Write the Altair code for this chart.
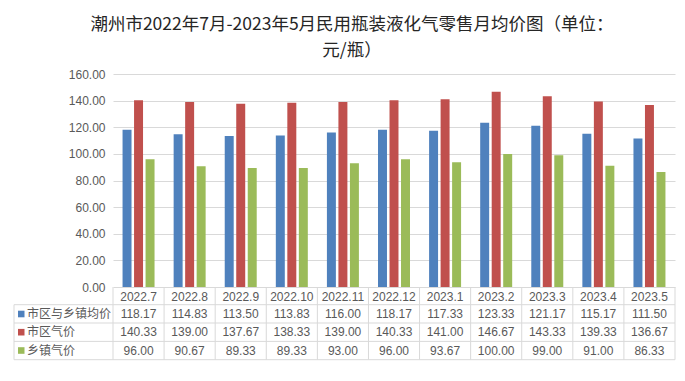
import altair as alt
import pandas as pd

months = ["2022.7", "2022.8", "2022.9", "2022.10", "2022.11", "2022.12",
          "2023.1", "2023.2", "2023.3", "2023.4", "2023.5"]
series = ["市区与乡镇均价", "市区气价", "乡镇气价"]
avg_price = [118.17, 114.83, 113.50, 113.83, 116.00, 118.17, 117.33, 123.33, 121.17, 115.17, 111.50]
city_price = [140.33, 139.00, 137.67, 138.33, 139.00, 140.33, 141.00, 146.67, 143.33, 139.33, 136.67]
town_price = [96.00, 90.67, 89.33, 89.33, 93.00, 96.00, 93.67, 100.00, 99.00, 91.00, 86.33]
colors = ["#4F81BD", "#C0504D", "#9BBB59"]
title_lines = ["潮州市2022年7月-2023年5月民用瓶装液化气零售月均价图（单位：", "元/瓶）"]

rows = []
for s, vals in zip(series, [avg_price, city_price, town_price]):
    for m, v in zip(months, vals):
        rows.append({"month": m, "series": s, "value": v, "label": f"{v:.2f}"})
df = pd.DataFrame(rows)

W, H = 562, 213
NUM_FONT = "Liberation Sans Narrow, Liberation Sans, sans-serif"
CJK_FONT = "Noto Sans CJK SC"
GRID = "#D9D9D9"
TXT = "#595959"

xscale = alt.Scale(domain=months, paddingInner=0, paddingOuter=0)
xenc = alt.X("month:N", sort=months, scale=xscale, axis=None)

bars = alt.Chart(df).mark_bar().encode(
    x=xenc,
    xOffset=alt.XOffset("series:N", sort=series,
                        scale=alt.Scale(domain=series, paddingInner=0.22, paddingOuter=0.83)),
    y=alt.Y("value:Q", scale=alt.Scale(domain=[0, 160]),
            axis=alt.Axis(values=list(range(0, 161, 20)), format=".2f", title=None,
                          domain=False, ticks=False, labelPadding=8, gridColor=GRID,
                          labelColor=TXT, labelFont=NUM_FONT, labelFontSize=12)),
    color=alt.Color("series:N", sort=series, scale=alt.Scale(domain=series, range=colors), legend=None),
)

layers = [bars]

# table header labels
hdr = pd.DataFrame({"month": months})
layers.append(alt.Chart(hdr).mark_text(font=NUM_FONT, fontSize=12, color=TXT, baseline="middle").encode(
    x=xenc, y=alt.value(222.5), text="month:N"))

# vertical table lines
layers.append(alt.Chart(hdr).mark_rule(color=GRID, strokeWidth=1).encode(
    x=alt.X("month:N", sort=months, scale=xscale, axis=None, bandPosition=0),
    y=alt.value(213), y2=alt.value(285.7)))

one = pd.DataFrame({"a": [0]})
layers.append(alt.Chart(one).mark_rule(color=GRID).encode(
    x=alt.value(W), y=alt.value(213), y2=alt.value(285.7)))
layers.append(alt.Chart(one).mark_rule(color=GRID).encode(
    x=alt.value(-99), y=alt.value(230.7), y2=alt.value(285.7)))
for yy in [230.7, 249.0, 267.4, 285.7]:
    layers.append(alt.Chart(one).mark_rule(color=GRID).encode(
        x=alt.value(-99), x2=alt.value(W), y=alt.value(yy)))

row_y = [240.0, 258.2, 276.5]
for s, c, ry in zip(series, colors, row_y):
    layers.append(alt.Chart(df).transform_filter(alt.datum.series == s).mark_text(
        font=NUM_FONT, fontSize=12, color=TXT, baseline="middle").encode(
        x=xenc, y=alt.value(ry), text="label:N"))
    layers.append(alt.Chart(one).mark_rect(color=c).encode(
        x=alt.value(-95), x2=alt.value(-88.5), y=alt.value(ry - 3.3), y2=alt.value(ry + 3.3)))
    layers.append(alt.Chart(one).mark_text(font=CJK_FONT, fontSize=12, color=TXT, align="left",
                                           baseline="middle", text=s).encode(
        x=alt.value(-86), y=alt.value(ry)))

for t, ty in zip(title_lines, [-48.8, -22.8]):
    layers.append(alt.Chart(one).mark_text(font=CJK_FONT, fontSize=17.5, color="#262626",
                                           align="center", baseline="middle", text=t).encode(
        x=alt.value(239), y=alt.value(ty)))

chart = alt.layer(*layers).properties(
    width=W, height=H,
    autosize=alt.AutoSizeParams(type="none"),
    padding={"left": 105, "top": 66, "right": 2, "bottom": 88},
).configure_view(stroke=None)

chart.save("out.html", embed_options={"renderer": "svg", "actions": False})
